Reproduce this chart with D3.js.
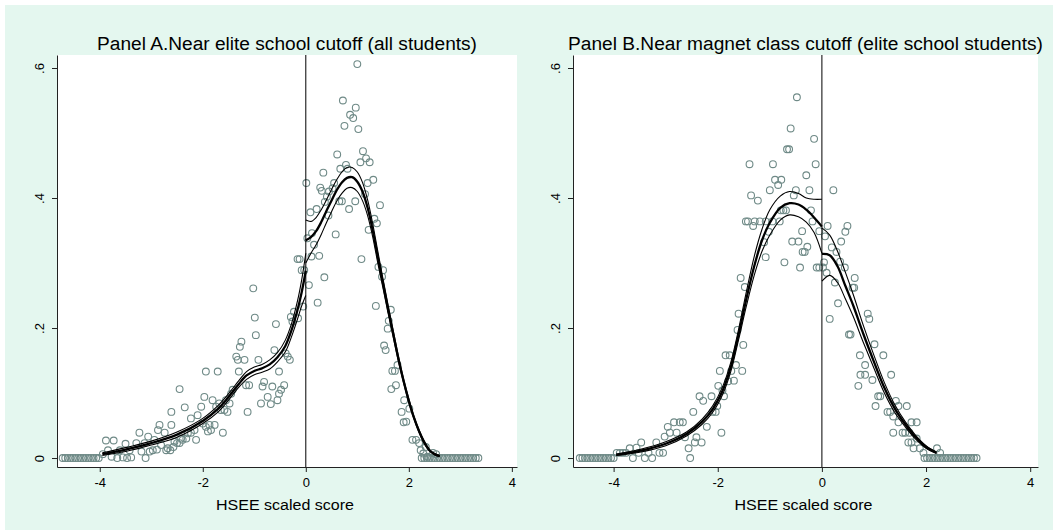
<!DOCTYPE html>
<html>
<head>
<meta charset="utf-8">
<script src="https://cdn.jsdelivr.net/npm/d3@7"></script>
<style>
  body { margin: 0; background: #ffffff; }
  svg { display: block; }
  text { font-family: "Liberation Sans", Arial, sans-serif; fill: #000; }
</style>
</head>
<body>
<svg id="chart" width="1058" height="531"></svg>
<script>
// ---- text ----
const titles = [
  "Panel A.Near elite school cutoff (all students)",
  "Panel B.Near magnet class cutoff (elite school students)"
];
const xLabel = "HSEE scaled score";
const xTicks = [-4, -2, 0, 2, 4];
const yTicks = [0, 0.2, 0.4, 0.6];
const yTickLabels = ["0", ".2", ".4", ".6"];

// ---- Panel A: binned densities (score, density) ----
const aZerosLeft = [-4.72,-4.67,-4.62,-4.57,-4.52,-4.47,-4.42,-4.37,-4.32,-4.27,-4.22,-4.17,-4.12,-4.07,-4.02];
const aZerosRight = [2.25,2.30,2.35,2.40,2.45,2.50,2.55,2.60,2.65,2.70,2.75,2.80,2.85,2.90,2.95,3.00,3.05,3.10,3.15,3.20,3.25,3.30,3.35];
const aPoints = [
  [-3.94,0.006],[-3.88,0.027],[-3.84,0.012],[-3.77,0.002],[-3.73,0.027],[-3.66,0.000],[-3.61,0.012],[-3.55,0.001],
  [-3.50,0.022],[-3.47,0.000],[-3.42,0.012],[-3.39,0.001],[-3.29,0.023],[-3.23,0.039],[-3.19,0.010],[-3.13,0.023],
  [-3.11,0.000],[-3.06,0.033],[-3.03,0.010],[-2.97,0.012],[-2.94,0.028],[-2.89,0.013],[-2.87,0.043],[-2.84,0.051],
  [-2.81,0.020],[-2.74,0.039],[-2.71,0.012],[-2.68,0.015],[-2.63,0.012],[-2.61,0.071],[-2.61,0.051],[-2.57,0.017],
  [-2.55,0.025],[-2.50,0.023],[-2.45,0.106],[-2.45,0.023],[-2.42,0.030],[-2.39,0.028],[-2.35,0.078],[-2.32,0.030],
  [-2.29,0.038],[-2.23,0.061],[-2.23,0.039],[-2.16,0.043],[-2.13,0.028],[-2.10,0.066],[-2.03,0.079],[-2.00,0.053],
  [-1.97,0.094],[-1.94,0.048],[-1.94,0.133],[-1.90,0.041],[-1.87,0.051],[-1.84,0.043],[-1.81,0.089],[-1.77,0.051],
  [-1.74,0.079],[-1.71,0.133],[-1.68,0.084],[-1.65,0.074],[-1.61,0.039],[-1.58,0.074],[-1.55,0.089],[-1.52,0.071],
  [-1.48,0.084],[-1.45,0.099],[-1.42,0.105],[-1.35,0.156],[-1.32,0.151],[-1.30,0.133],[-1.28,0.171],[-1.25,0.179],
  [-1.19,0.151],[-1.16,0.112],[-1.13,0.071],[-1.10,0.112],[-1.02,0.261],[-0.99,0.216],[-0.97,0.189],[-0.92,0.151],
  [-0.87,0.084],[-0.84,0.110],[-0.81,0.117],[-0.74,0.094],[-0.68,0.083],[-0.65,0.110],[-0.61,0.166],[-0.58,0.206],
  [-0.55,0.089],[-0.52,0.133],[-0.52,0.099],[-0.48,0.105],[-0.42,0.112],[-0.39,0.161],[-0.35,0.156],[-0.31,0.151],
  [-0.29,0.217],[-0.26,0.210],[-0.23,0.225],[-0.15,0.215],[-0.16,0.306],[-0.12,0.306],[-0.08,0.289],[-0.03,0.289],
  [-0.05,0.233],
  [0.01,0.423],[0.03,0.338],[0.06,0.266],[0.09,0.378],[0.11,0.310],[0.12,0.346],[0.16,0.328],[0.21,0.383],
  [0.23,0.239],[0.26,0.311],[0.28,0.416],[0.31,0.411],[0.34,0.439],[0.36,0.278],[0.37,0.394],[0.41,0.402],
  [0.44,0.373],[0.45,0.410],[0.52,0.415],[0.55,0.423],[0.58,0.344],[0.61,0.467],[0.65,0.395],[0.67,0.445],
  [0.70,0.395],[0.72,0.550],[0.75,0.511],[0.78,0.451],[0.81,0.445],[0.84,0.383],[0.86,0.528],[0.92,0.523],
  [0.96,0.395],[0.97,0.539],[1.00,0.606],[1.02,0.506],[1.06,0.455],[1.08,0.306],[1.11,0.472],[1.15,0.406],
  [1.17,0.461],[1.20,0.423],[1.22,0.351],[1.24,0.455],[1.31,0.428],[1.33,0.368],[1.36,0.234],[1.38,0.361],
  [1.41,0.294],[1.44,0.389],[1.48,0.279],[1.50,0.289],[1.52,0.173],[1.55,0.166],[1.59,0.199],[1.61,0.211],
  [1.65,0.228],[1.66,0.106],[1.68,0.134],[1.73,0.134],[1.75,0.112],[1.78,0.143],[1.86,0.071],[1.90,0.055],
  [1.91,0.089],[1.95,0.056],[2.01,0.076],[2.07,0.028],[2.14,0.028],[2.20,0.023],[2.23,0.012],[2.28,0.007],
  [2.33,0.017],[2.36,0.002],[2.47,0.008],[2.53,0.006]
];
// Panel A: local fit with confidence band, each side of the cutoff
const aLeftX   = [-3.95,-3.5,-3.0,-2.5,-2.0,-1.7,-1.5,-1.3,-1.15,-1.0,-0.85,-0.7,-0.55,-0.4,-0.28,-0.16,-0.08,0];
const aLeftMid = [0.006,0.013,0.023,0.036,0.057,0.076,0.094,0.114,0.127,0.134,0.138,0.144,0.155,0.172,0.196,0.228,0.255,0.288];
const aLeftHi  = [0.008,0.016,0.026,0.040,0.061,0.081,0.099,0.119,0.133,0.140,0.144,0.151,0.162,0.181,0.206,0.242,0.274,0.315];
const aLeftLo  = [0.004,0.010,0.020,0.032,0.053,0.071,0.089,0.109,0.121,0.128,0.132,0.137,0.148,0.163,0.186,0.214,0.234,0.250];
const aRightX   = [0,0.1,0.2,0.3,0.4,0.5,0.6,0.7,0.8,0.9,1.0,1.1,1.2,1.3,1.4,1.5,1.6,1.7,1.8,1.9,2.0,2.1,2.2,2.3,2.4,2.5,2.6];
const aRightMid = [0.335,0.340,0.349,0.363,0.380,0.396,0.412,0.424,0.431,0.432,0.425,0.410,0.385,0.350,0.308,0.268,0.228,0.190,0.152,0.118,0.088,0.062,0.041,0.024,0.012,0.006,0.003];
const aRightHi  = [0.366,0.364,0.370,0.382,0.397,0.413,0.428,0.440,0.447,0.447,0.440,0.424,0.397,0.360,0.317,0.275,0.234,0.195,0.156,0.121,0.091,0.064,0.043,0.026,0.013,0.007,0.004];
const aRightLo  = [0.300,0.315,0.328,0.344,0.362,0.379,0.395,0.407,0.415,0.416,0.410,0.396,0.373,0.340,0.299,0.261,0.222,0.185,0.148,0.115,0.085,0.060,0.039,0.022,0.011,0.005,0.002];

// ---- Panel B: binned densities (score, density) ----
const bZerosLeft = [-4.65,-4.60,-4.55,-4.50,-4.45,-4.40,-4.35,-4.30,-4.25,-4.20,-4.15,-4.10,-4.05,-4.00];
const bZerosRight = [1.97,2.02,2.07,2.12,2.17,2.22,2.27,2.32,2.37,2.42,2.47,2.52,2.57,2.62,2.67,2.72,2.77,2.82,2.87,2.92,2.97];
const bPoints = [
  [-3.94,0.008],[-3.88,0.008],[-3.82,0.008],[-3.76,0.008],[-3.69,0.015],[-3.63,0.000],[-3.56,0.016],[-3.52,0.008],
  [-3.47,0.024],[-3.40,0.000],[-3.33,0.008],[-3.26,0.000],[-3.18,0.024],[-3.12,0.008],[-3.05,0.008],[-3.02,0.033],
  [-2.96,0.048],[-2.92,0.039],[-2.84,0.055],[-2.79,0.039],[-2.73,0.055],[-2.67,0.055],[-2.63,0.032],[-2.56,0.015],
  [-2.53,0.000],[-2.47,0.071],[-2.44,0.024],[-2.41,0.032],[-2.35,0.095],[-2.31,0.024],[-2.28,0.088],[-2.21,0.048],
  [-2.12,0.095],[-2.10,0.071],[-2.04,0.071],[-2.01,0.080],[-1.99,0.111],[-1.96,0.134],[-1.93,0.039],[-1.91,0.104],
  [-1.88,0.095],[-1.85,0.158],[-1.80,0.118],[-1.77,0.158],[-1.74,0.134],[-1.69,0.119],[-1.65,0.143],[-1.62,0.197],
  [-1.60,0.222],[-1.56,0.277],[-1.53,0.134],[-1.51,0.174],[-1.48,0.263],[-1.46,0.364],[-1.42,0.364],[-1.39,0.452],
  [-1.36,0.404],[-1.32,0.357],[-1.29,0.364],[-1.23,0.396],[-1.19,0.364],[-1.11,0.332],[-1.08,0.364],[-1.08,0.309],
  [-1.02,0.348],[-1.00,0.412],[-0.95,0.364],[-0.94,0.452],[-0.90,0.428],[-0.84,0.420],[-0.81,0.364],[-0.79,0.381],
  [-0.78,0.428],[-0.74,0.381],[-0.72,0.301],[-0.69,0.381],[-0.67,0.475],[-0.63,0.475],[-0.60,0.507],[-0.57,0.333],
  [-0.54,0.404],[-0.50,0.412],[-0.48,0.555],[-0.45,0.333],[-0.42,0.293],[-0.38,0.349],[-0.37,0.317],[-0.33,0.317],
  [-0.30,0.435],[-0.28,0.325],[-0.24,0.412],[-0.21,0.381],[-0.18,0.364],[-0.15,0.491],[-0.12,0.452],[-0.10,0.293],
  [-0.05,0.349],[-0.05,0.293],
  [0.02,0.293],[0.04,0.301],[0.06,0.341],[0.09,0.285],[0.11,0.357],[0.15,0.214],[0.19,0.324],[0.22,0.412],
  [0.25,0.270],[0.28,0.317],[0.31,0.238],[0.35,0.302],[0.37,0.333],[0.44,0.293],[0.45,0.348],[0.49,0.357],
  [0.52,0.190],[0.55,0.190],[0.59,0.262],[0.62,0.262],[0.63,0.277],[0.70,0.111],[0.73,0.158],[0.74,0.128],
  [0.83,0.143],[0.83,0.128],[0.88,0.222],[0.91,0.214],[0.97,0.120],[1.01,0.175],[1.03,0.080],[1.08,0.095],
  [1.12,0.095],[1.18,0.158],[1.26,0.071],[1.31,0.071],[1.33,0.128],[1.37,0.064],[1.37,0.039],[1.42,0.088],
  [1.47,0.080],[1.47,0.055],[1.55,0.039],[1.60,0.039],[1.63,0.080],[1.66,0.024],[1.68,0.039],[1.72,0.055],
  [1.72,0.024],[1.76,0.015],[1.82,0.055],[1.82,0.030],[1.88,0.015],[1.95,0.008],[2.21,0.015],[2.27,0.008]
];
// Panel B: local fit with confidence band, each side of the cutoff
const bLeftX   = [-3.95,-3.5,-3.0,-2.6,-2.3,-2.1,-1.9,-1.75,-1.6,-1.45,-1.3,-1.15,-1.0,-0.8,-0.62,-0.45,-0.3,-0.15,0];
const bLeftMid = [0.005,0.011,0.022,0.037,0.056,0.075,0.105,0.140,0.190,0.245,0.295,0.335,0.362,0.385,0.392,0.390,0.382,0.370,0.356];
const bLeftHi  = [0.006,0.013,0.025,0.040,0.060,0.080,0.111,0.147,0.198,0.256,0.310,0.352,0.382,0.403,0.410,0.407,0.400,0.398,0.398];
const bLeftLo  = [0.004,0.009,0.019,0.034,0.052,0.070,0.099,0.133,0.182,0.234,0.281,0.318,0.343,0.366,0.374,0.371,0.363,0.347,0.315];
const bRightX   = [0,0.15,0.3,0.45,0.6,0.8,1.0,1.2,1.4,1.6,1.8,2.0,2.2];
const bRightMid = [0.314,0.312,0.295,0.265,0.235,0.190,0.148,0.108,0.076,0.052,0.032,0.017,0.008];
const bRightHi  = [0.354,0.343,0.318,0.286,0.252,0.203,0.158,0.116,0.082,0.056,0.035,0.019,0.009];
const bRightLo  = [0.272,0.281,0.270,0.245,0.218,0.177,0.138,0.100,0.070,0.048,0.029,0.015,0.007];

// ---- layout ----
const W = 1058, H = 531;
const plotTop = 55, plotBottom = 467;
const panels = [
  { title: titles[0], titleWidth: 380, left: 57, right: 517, xDomain: [-4.83, 4.10],
    points: aPoints, zeros: aZerosLeft.concat(aZerosRight),
    fits: [[aLeftX, aLeftLo, aLeftMid, aLeftHi], [aRightX, aRightLo, aRightMid, aRightHi]] },
  { title: titles[1], titleWidth: 475, left: 573, right: 1038, xDomain: [-4.78, 4.15],
    points: bPoints, zeros: bZerosLeft.concat(bZerosRight),
    fits: [[bLeftX, bLeftLo, bLeftMid, bLeftHi], [bRightX, bRightLo, bRightMid, bRightHi]] }
];

const svg = d3.select("#chart");
svg.append("rect").attr("x", 5).attr("y", 5).attr("width", W - 10).attr("height", H - 6)
   .attr("fill", "#e4f7ef");

const y = d3.scaleLinear().domain([-0.0138, 0.62]).range([plotBottom, plotTop]);
const markerColor = "#6f8a87";

panels.forEach(p => {
  const x = d3.scaleLinear().domain(p.xDomain).range([p.left, p.right]);
  const g = svg.append("g");

  g.append("rect").attr("x", p.left).attr("y", plotTop)
   .attr("width", p.right - p.left).attr("height", plotBottom - plotTop).attr("fill", "#fff");

  // hollow circle markers
  const pts = p.zeros.map(v => [v, 0]).concat(p.points);
  g.append("g").selectAll("circle").data(pts).join("circle")
    .attr("cx", d => x(d[0])).attr("cy", d => y(d[1])).attr("r", 3.4)
    .attr("fill", "none").attr("stroke", markerColor).attr("stroke-width", 1.1);

  // fitted density with confidence band
  const line = d3.line().x(d => x(d[0])).y(d => y(d[1])).curve(d3.curveCatmullRom.alpha(0.5));
  p.fits.forEach(([xs, lo, mid, hi]) => {
    [[lo, 1.1], [hi, 1.1], [mid, 2.3]].forEach(([vals, w]) => {
      g.append("path").datum(xs.map((v, i) => [v, vals[i]]))
        .attr("d", line).attr("fill", "none").attr("stroke", "#000")
        .attr("stroke-width", w).attr("stroke-linejoin", "round");
    });
  });

  // cutoff
  g.append("line").attr("x1", x(0)).attr("x2", x(0)).attr("y1", plotTop).attr("y2", plotBottom)
   .attr("stroke", "#000").attr("stroke-width", 1);

  // axes
  const xAxis = g.append("g").attr("transform", `translate(0,${plotBottom})`)
    .call(d3.axisBottom(x).tickValues(xTicks).tickSize(5).tickSizeOuter(0).tickPadding(6)
          .tickFormat(d3.format("d")));
  const yAxis = g.append("g").attr("transform", `translate(${p.left},0)`)
    .call(d3.axisLeft(y).tickValues(yTicks).tickSize(5).tickSizeOuter(0)
          .tickFormat((d, i) => yTickLabels[i]));
  [xAxis, yAxis].forEach(a => {
    a.selectAll("path, line").attr("stroke", "#222");
    a.selectAll("text").attr("font-size", 13).attr("font-family", "Liberation Sans, Arial, sans-serif")
      .attr("fill", "#000");
  });
  xAxis.selectAll("text").text(d => d < 0 ? "-" + Math.abs(d) : d);
  yAxis.selectAll("text")
    .attr("transform", "rotate(-90)").attr("x", 0).attr("y", -13).attr("dy", 0)
    .attr("text-anchor", "middle");

  // titles
  g.append("text").attr("x", (p.left + p.right) / 2).attr("y", 50)
   .attr("text-anchor", "middle").attr("font-size", 18)
   .attr("textLength", p.titleWidth).attr("lengthAdjust", "spacingAndGlyphs").text(p.title);
  g.append("text").attr("x", (p.left + p.right) / 2 - 2).attr("y", 510)
   .attr("text-anchor", "middle").attr("font-size", 15.5)
   .attr("textLength", 138).attr("lengthAdjust", "spacingAndGlyphs").text(xLabel);
});
</script>
</body>
</html>
